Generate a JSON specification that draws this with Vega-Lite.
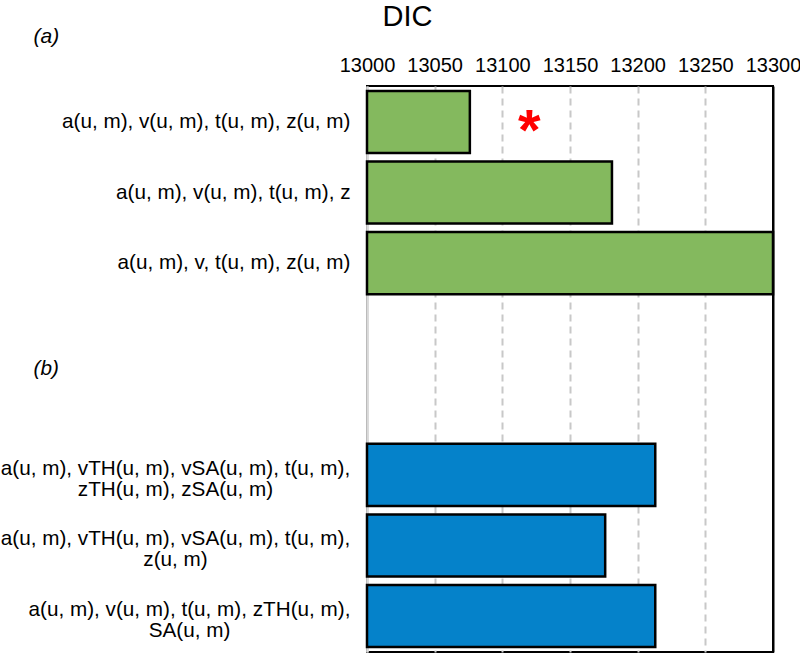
{
  "$schema": "https://vega.github.io/schema/vega-lite/v6.json",
  "width": 406,
  "height": 566,
  "autosize": {"type": "none"},
  "padding": {"left": 367, "top": 86, "right": 27, "bottom": 1},
  "config": {"view": {"stroke": "black", "strokeWidth": 2}, "font": "Liberation Sans"},
  "datasets": {
    "bars": [
      {"model": "a(u, m), v(u, m), t(u, m), z(u, m)", "group": "a", "value": 13076},
      {"model": "a(u, m), v(u, m), t(u, m), z", "group": "a", "value": 13181},
      {"model": "a(u, m), v, t(u, m), z(u, m)", "group": "a", "value": 13300},
      {"model": "a(u, m), vTH(u, m), vSA(u, m), t(u, m),|zTH(u, m), zSA(u, m)", "group": "b", "value": 13213},
      {"model": "a(u, m), vTH(u, m), vSA(u, m), t(u, m),|z(u, m)", "group": "b", "value": 13176},
      {"model": "a(u, m), v(u, m), t(u, m), zTH(u, m),|SA(u, m)", "group": "b", "value": 13213}
    ],
    "marks": [
      {"model": "a(u, m), v(u, m), t(u, m), z(u, m)", "value": 13120, "symbol": "*"}
    ]
  },
  "layer": [
    {
      "data": {"name": "bars"},
      "mark": {"type": "bar", "stroke": "black", "strokeWidth": 2.5},
      "encoding": {
        "y": {
          "field": "model",
          "type": "nominal",
          "sort": null,
          "scale": {
            "domain": [
              "a(u, m), v(u, m), t(u, m), z(u, m)",
              "a(u, m), v(u, m), t(u, m), z",
              "a(u, m), v, t(u, m), z(u, m)",
              "(b)",
              " ",
              "a(u, m), vTH(u, m), vSA(u, m), t(u, m),|zTH(u, m), zSA(u, m)",
              "a(u, m), vTH(u, m), vSA(u, m), t(u, m),|z(u, m)",
              "a(u, m), v(u, m), t(u, m), zTH(u, m),|SA(u, m)"
            ],
            "paddingInner": 0.12,
            "paddingOuter": 0.07
          },
          "axis": {
            "title": "(a)",
            "titleAngle": 0,
            "titleAlign": "left",
            "titleBaseline": "alphabetic",
            "titleX": -334,
            "titleY": -44,
            "titleFontSize": 21,
            "titleFontWeight": "normal",
            "titleFontStyle": "italic",
            "titleColor": "black",
            "labelExpr": "split(datum.label, '|')",
            "labelFontSize": 20.7,
            "labelColor": "black",
            "labelLineHeight": 21,
            "labelLimit": 400,
            "labelAlign": {"condition": [{"test": "indexof(datum.value, '|') >= 0", "value": "center"}, {"test": "datum.value === '(b)'", "value": "left"}], "value": "right"},
            "labelPadding": {"condition": [{"test": "indexof(datum.value, 'zTH(u, m),|') >= 0", "value": 178}, {"test": "indexof(datum.value, '|') >= 0", "value": 192}, {"test": "datum.value === '(b)'", "value": 334}], "value": 17},
            "labelOffset": {"condition": [{"test": "datum.value === '(b)'", "value": 35}, {"test": "indexof(datum.value, '|') >= 0", "value": -6}], "value": 0},
            "labelFontStyle": {"condition": {"test": "datum.value === '(b)'", "value": "italic"}, "value": "normal"},
            "ticks": false,
            "tickSize": 0,
            "domainColor": "#d9d9d9",
            "domainWidth": 2.5,
            "grid": false
          }
        },
        "x": {
          "field": "value",
          "type": "quantitative",
          "scale": {"domain": [13000, 13300], "zero": false, "nice": false},
          "axis": {
            "orient": "top",
            "title": "DIC",
            "titleFontSize": 29,
            "titleFontWeight": "normal",
            "titleColor": "black",
            "titleX": 40,
            "titleY": -61,
            "titleAlign": "center",
            "titleBaseline": "alphabetic",
            "titleAngle": 0,
            "values": [13000, 13050, 13100, 13150, 13200, 13250, 13300],
            "format": "d",
            "labelFontSize": 20,
            "labelColor": "black",
            "labelPadding": 15,
            "labelBaseline": "alphabetic",
            "labelFlush": false,
            "labelOverlap": false,
            "ticks": false,
            "tickSize": 0,
            "domain": false,
            "grid": true,
            "gridDash": {"condition": [{"test": "datum.value === 13000", "value": []}, {"test": "datum.value === 13300", "value": []}], "value": [7, 5]},
            "gridColor": {"condition": {"test": "datum.value === 13300", "value": "black"}, "value": "#c8c8c8"},
            "gridWidth": 2
          }
        },
        "x2": {"datum": 13000},
        "color": {
          "field": "group",
          "type": "nominal",
          "scale": {"domain": ["a", "b"], "range": ["#84b95e", "#0582ca"]},
          "legend": null
        }
      }
    },
    {
      "data": {"name": "marks"},
      "mark": {"type": "text", "fontSize": 58, "fontWeight": "bold", "color": "#ff0000", "baseline": "alphabetic", "align": "center", "dy": 28},
      "encoding": {
        "y": {"field": "model", "type": "nominal"},
        "x": {"field": "value", "type": "quantitative"},
        "text": {"field": "symbol"}
      }
    }
  ]
}
